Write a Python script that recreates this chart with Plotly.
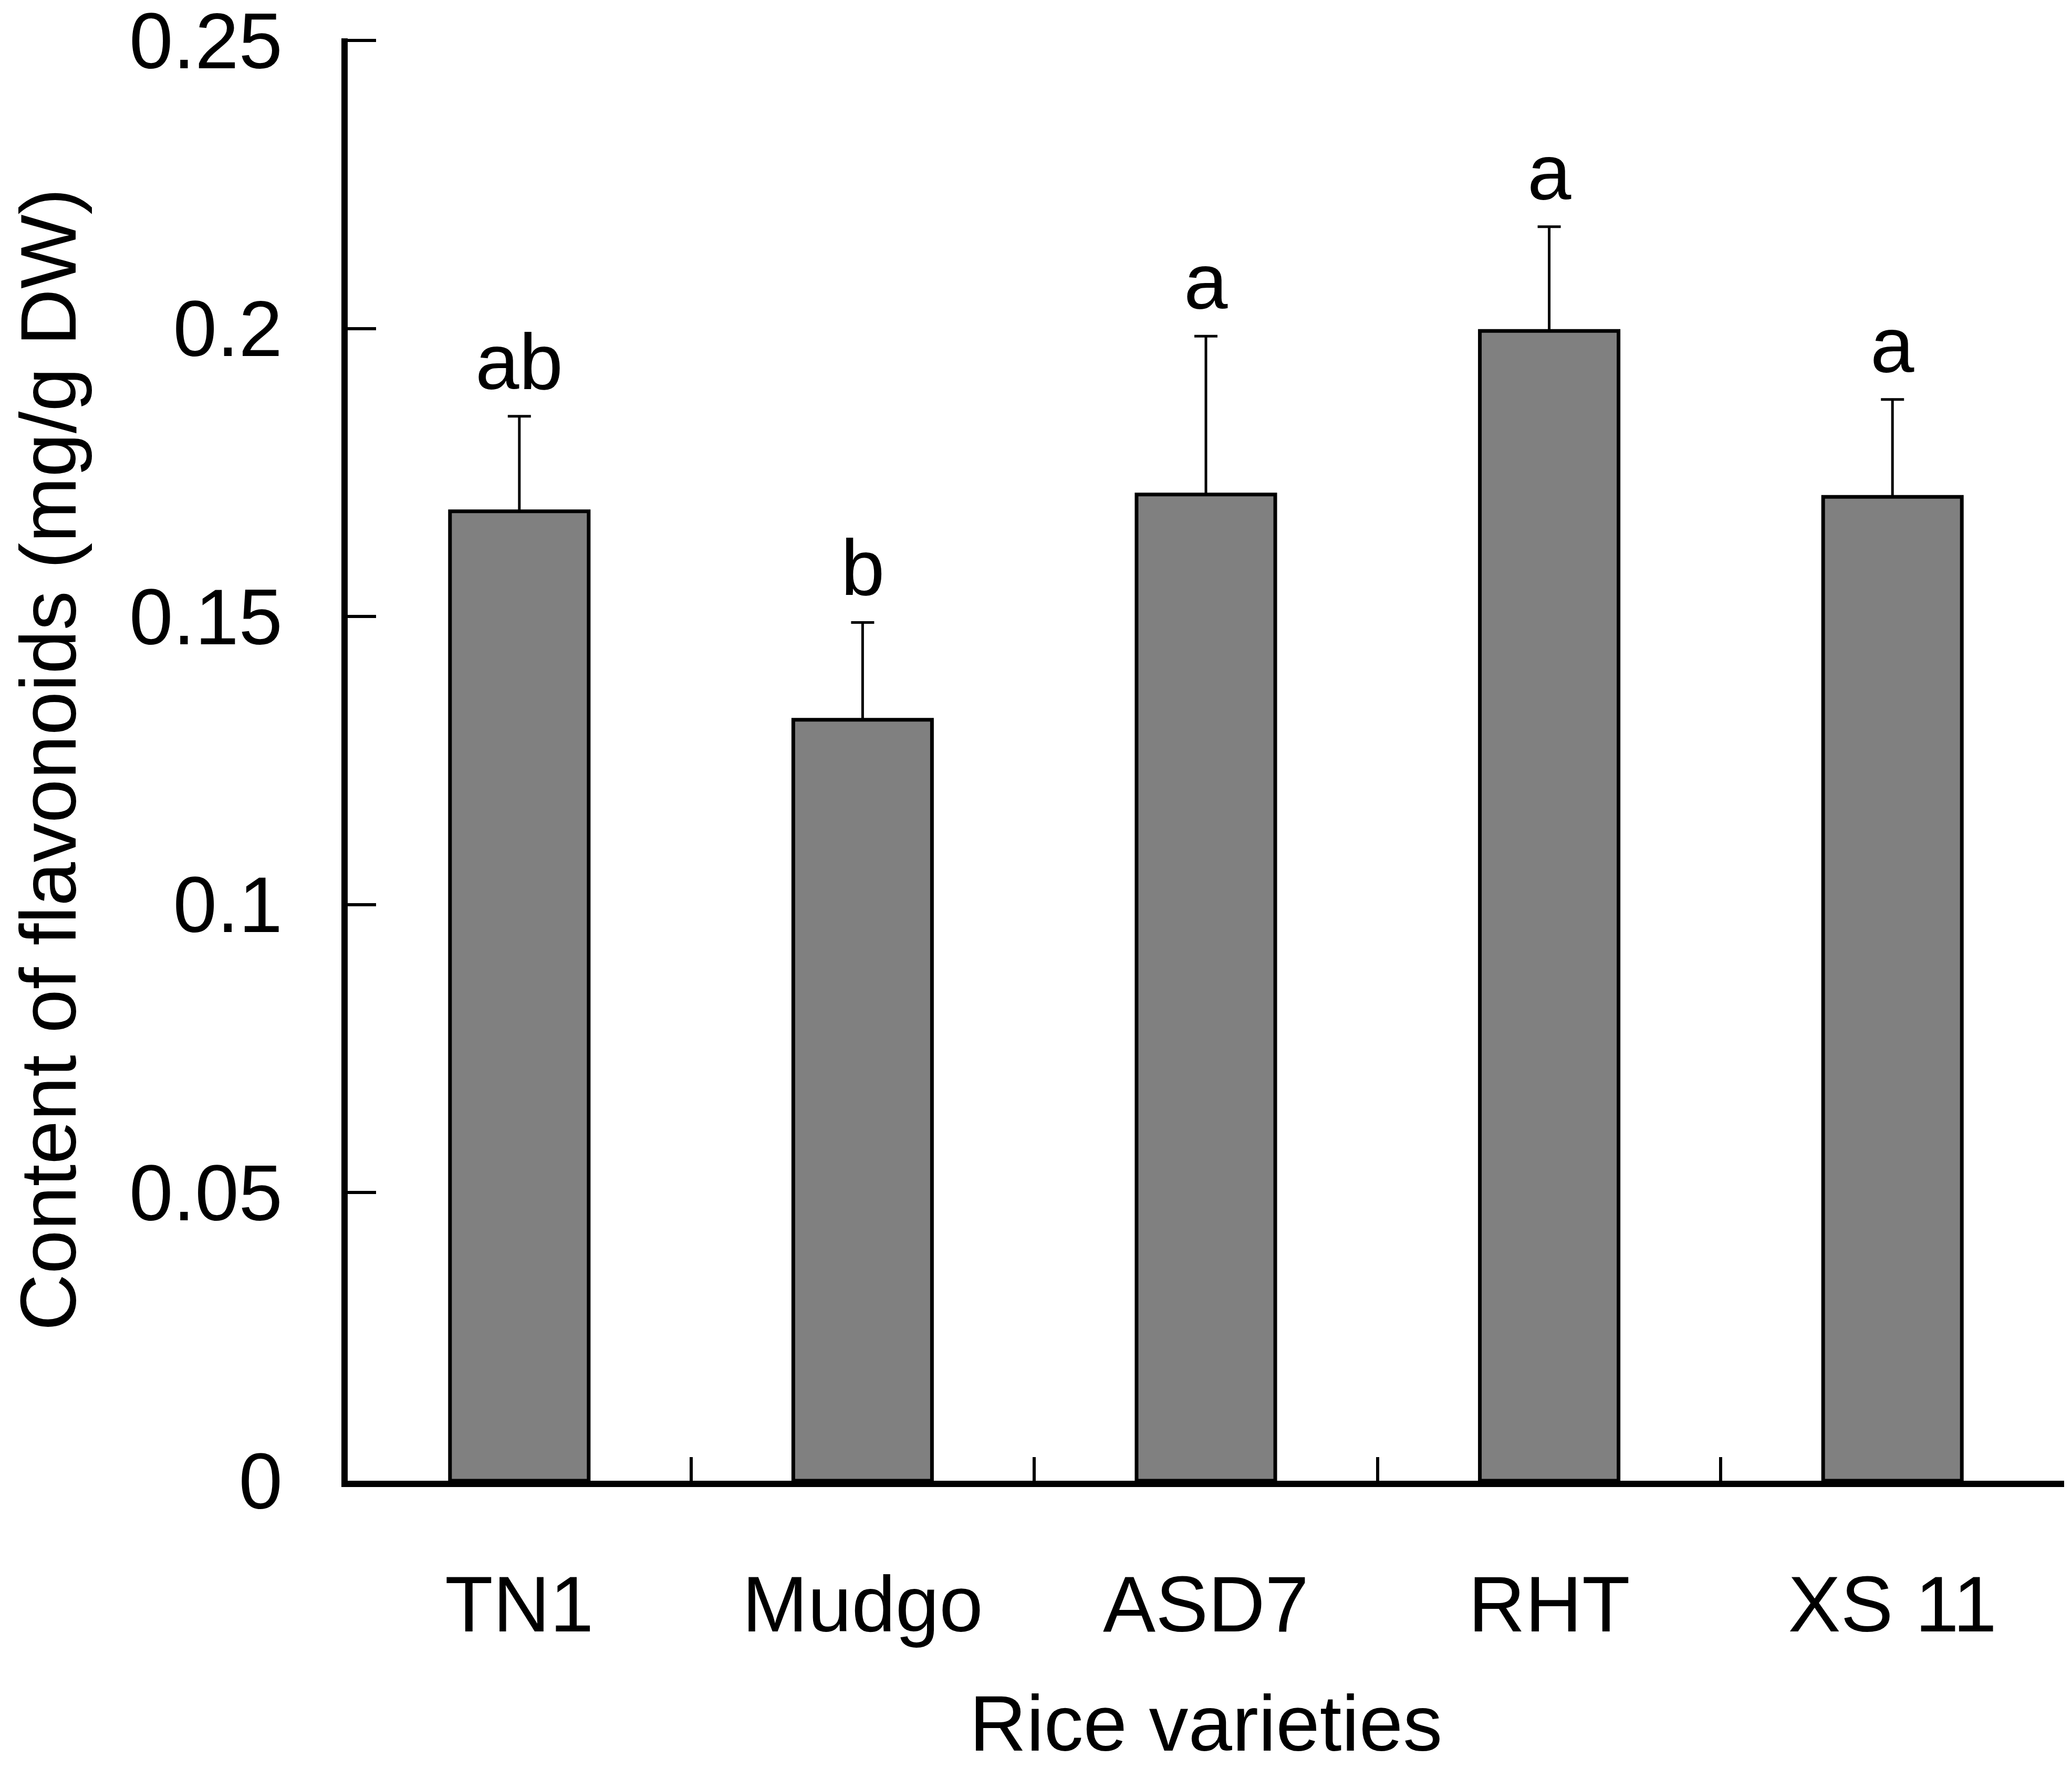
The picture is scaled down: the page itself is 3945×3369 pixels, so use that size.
import plotly.graph_objects as go

# data
varieties = ['TN1', 'Mudgo', 'ASD7', 'RHT', 'XS 11']
flavonoids = [0.1683, 0.1321, 0.1712, 0.1996, 0.1708]
sd = [0.0165, 0.0169, 0.0275, 0.0181, 0.0169]
letters = ['ab', 'b', 'a', 'a', 'a']

y_ticks = [0, 0.05, 0.1, 0.15, 0.2, 0.25]
y_tick_text = ['0', '0.05', '0.1', '0.15', '0.2', '0.25']

FONT = 'Liberation Sans, Arial, sans-serif'

fig = go.Figure()
fig.add_trace(go.Bar(
    x=varieties,
    y=flavonoids,
    marker=dict(color='#808080', line=dict(color='black', width=7)),
    error_y=dict(type='data', array=sd, arrayminus=[0] * len(sd), symmetric=False,
                 color='black', thickness=5, width=22),
    showlegend=False,
))

# significance letters above the error bars
for v, m, s, lab in zip(varieties, flavonoids, sd, letters):
    fig.add_annotation(x=v, y=m + s, text=lab, showarrow=False,
                       yanchor='bottom', yshift=18,
                       font=dict(family=FONT, size=150, color='black'))

fig.update_layout(
    width=3945, height=3369,
    margin=dict(l=654, r=23, t=65, b=557),
    paper_bgcolor='white', plot_bgcolor='white',
    bargap=0.596,
    font=dict(family=FONT, size=150, color='black'),
)

fig.update_xaxes(
    title=dict(text='Rice varieties', font=dict(size=150), standoff=96),
    showline=True, linecolor='black', linewidth=12,
    ticks='inside', tickson='boundaries', ticklen=45, tickwidth=6, tickcolor='black',
    ticklabelstandoff=95,
    showgrid=False, zeroline=False, automargin=False,
)
# top of range nudged slightly past 0.25 so the last inside tick is not clipped
fig.update_yaxes(
    title=dict(text='Content of flavonoids (mg/g DW)', font=dict(size=150), standoff=70),
    range=[0, 0.2504], tickvals=y_ticks, ticktext=y_tick_text,
    showline=True, linecolor='black', linewidth=12,
    ticks='inside', ticklen=54, tickwidth=6, tickcolor='black',
    ticklabelstandoff=82, ticklabeloverflow='allow',
    showgrid=False, zeroline=False, automargin=False,
)

fig.write_html("out.html")
